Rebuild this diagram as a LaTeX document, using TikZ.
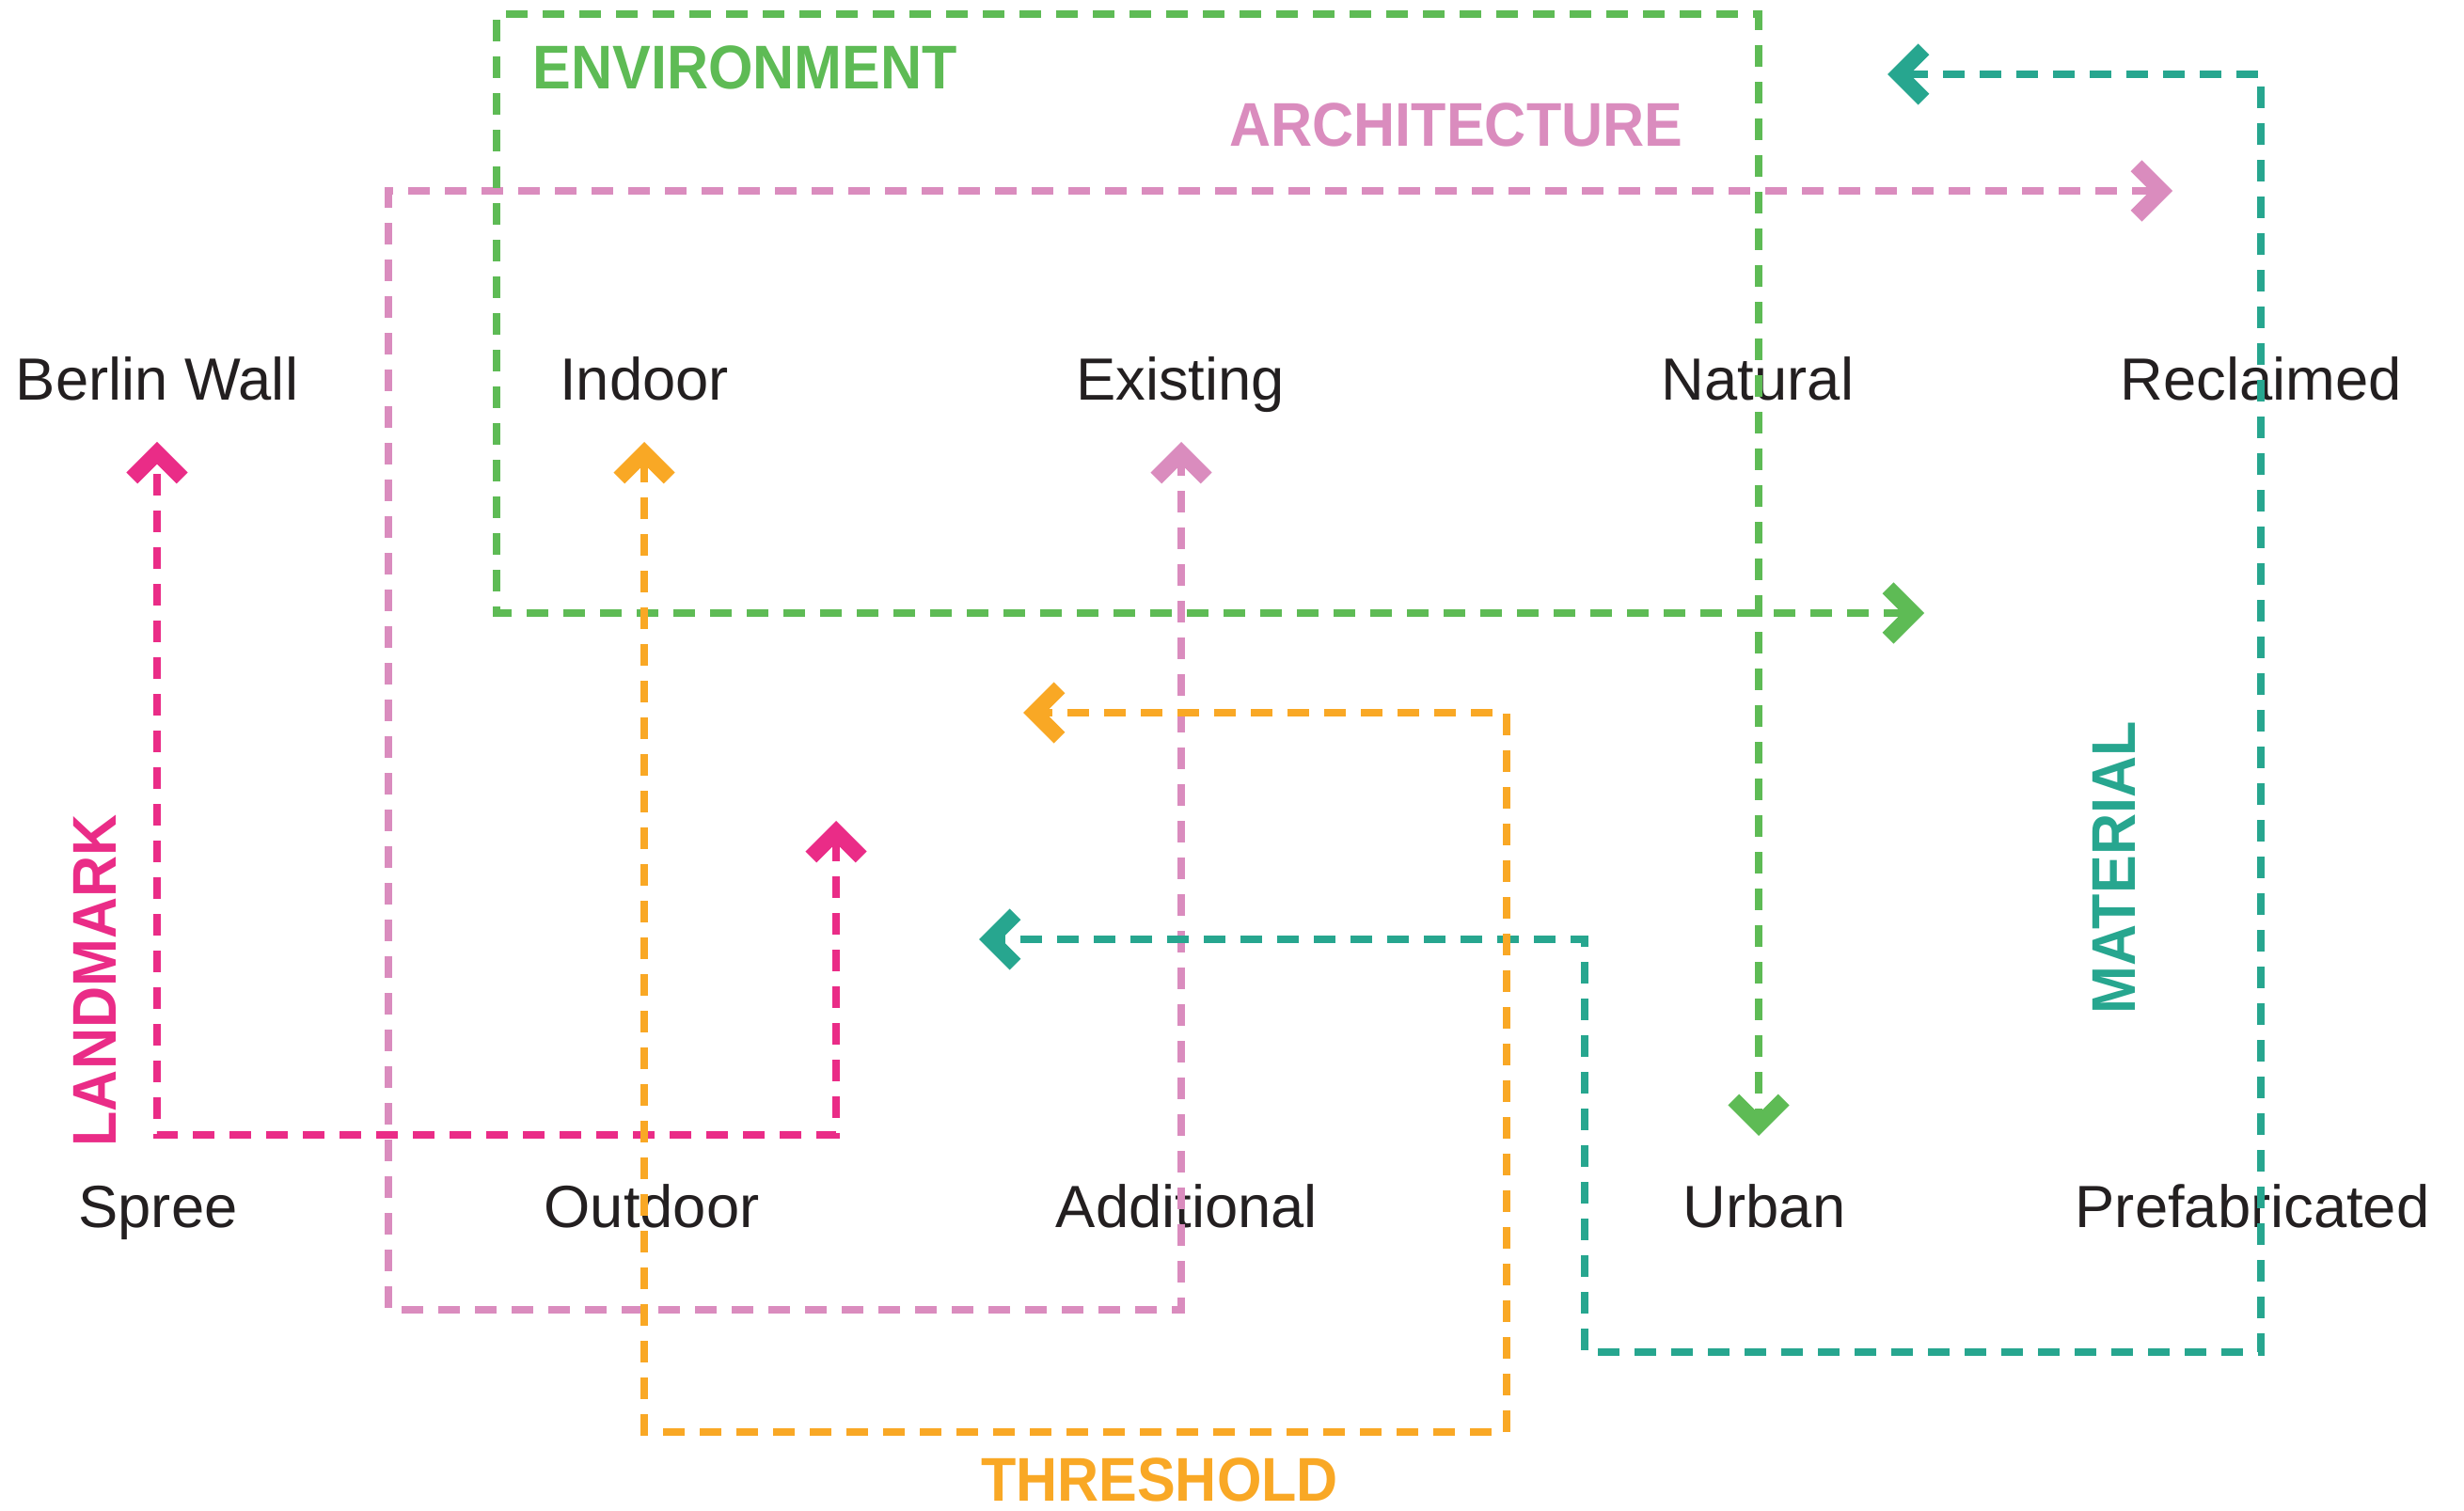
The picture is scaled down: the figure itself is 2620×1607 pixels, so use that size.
\documentclass[tikz,border=0pt]{standalone}
\usepackage{fontspec}
\setmainfont{Liberation Sans}
\newfontfamily\catfont[FakeStretch=0.93]{Liberation Sans}
\usetikzlibrary{arrows.meta,calc}
\definecolor{cgreen}{HTML}{5EBB55}
\definecolor{cpink}{HTML}{DA8CBE}
\definecolor{cmag}{HTML}{EA2C87}
\definecolor{corange}{HTML}{F9A825}
\definecolor{cteal}{HTML}{27A68F}
\definecolor{ctext}{HTML}{231F20}
\begin{document}
\begin{tikzpicture}[x=0.3pt,y=-0.3pt,
  >={Straight Barb[length=8pt,width=16pt,line width=5pt]},
  flow/.style={line width=2.4pt,dash pattern=on 6.9pt off 4.8pt,<->},
  lbl/.style={anchor=base,inner sep=0pt,text=ctext,font=\fontsize{19pt}{22pt}\selectfont},
  cat/.style={anchor=base,inner sep=0pt,font=\catfont\bfseries\fontsize{19.7pt}{23pt}\selectfont}]
\useasboundingbox[fill=white] (0,0) rectangle (2620,1607);
% term nodes
\node[lbl] (berlin) at (167,426) {Berlin Wall};
\node[lbl] (indoor) at (685,426) {Indoor};
\node[lbl] (existing) at (1255,426) {Existing};
\node[lbl] (natural) at (1869,426) {Natural};
\node[lbl] (reclaimed) at (2404,426) {Reclaimed};
\node[lbl] (spree) at (168,1305) {Spree};
\node[lbl] (outdoor) at (693,1305) {Outdoor};
\node[lbl] (additional) at (1262,1305) {Additional};
\node[lbl] (urban) at (1876,1305) {Urban};
\node[lbl] (prefab) at (2395,1305) {Prefabricated};
% category labels
\node[cat,text=cgreen,anchor=base west] (envlbl) at (566,95) {ENVIRONMENT};
\node[cat,text=cpink,anchor=base east] (archlbl) at (1790,156) {ARCHITECTURE};
\node[cat,text=corange] (thrlbl) at (1233,1596) {THRESHOLD};
\node[cat,text=cmag,rotate=90] (lmlbl) at (123,1043) {LANDMARK};
\node[cat,text=cteal,rotate=90] (matlbl) at (2270,923) {MATERIAL};
% connector end points
\coordinate (berlinTip) at ($(berlin.base)+(0,44)$);
\coordinate (indoorTip) at ($(indoor.base)+(0,44)$);
\coordinate (existingTip) at ($(existing.base)+(1,44)$);
\coordinate (lmTip) at (889,873);
\coordinate (envTip) at (2046,652);
\coordinate (urbanTip) at (1870,1208);
\coordinate (archTip) at (2310,203);
\coordinate (thrTip) at (1088,758);
\coordinate (matTipA) at (2007,79);
\coordinate (matTipB) at (1041,999);
% connectors
\draw[flow,cpink] (archTip) -- (413,203) -- (413,1393) -- (1256,1393) -- (existingTip);
\draw[flow,cgreen] (envTip) -- (528,652) -- (528,15) -- (1870,15) -- (urbanTip);
\draw[flow,cteal] (matTipA) -- (2404,79) -- (2404,1438) -- (1685,1438) -- (1685,999) -- (matTipB);
\draw[flow,cmag] (lmTip) -- (889,1207) -- (167,1207) -- (berlinTip);
\draw[flow,corange] (indoorTip) -- (685,1523) -- (1602,1523) -- (1602,758) -- (thrTip);
\end{tikzpicture}
\end{document}
